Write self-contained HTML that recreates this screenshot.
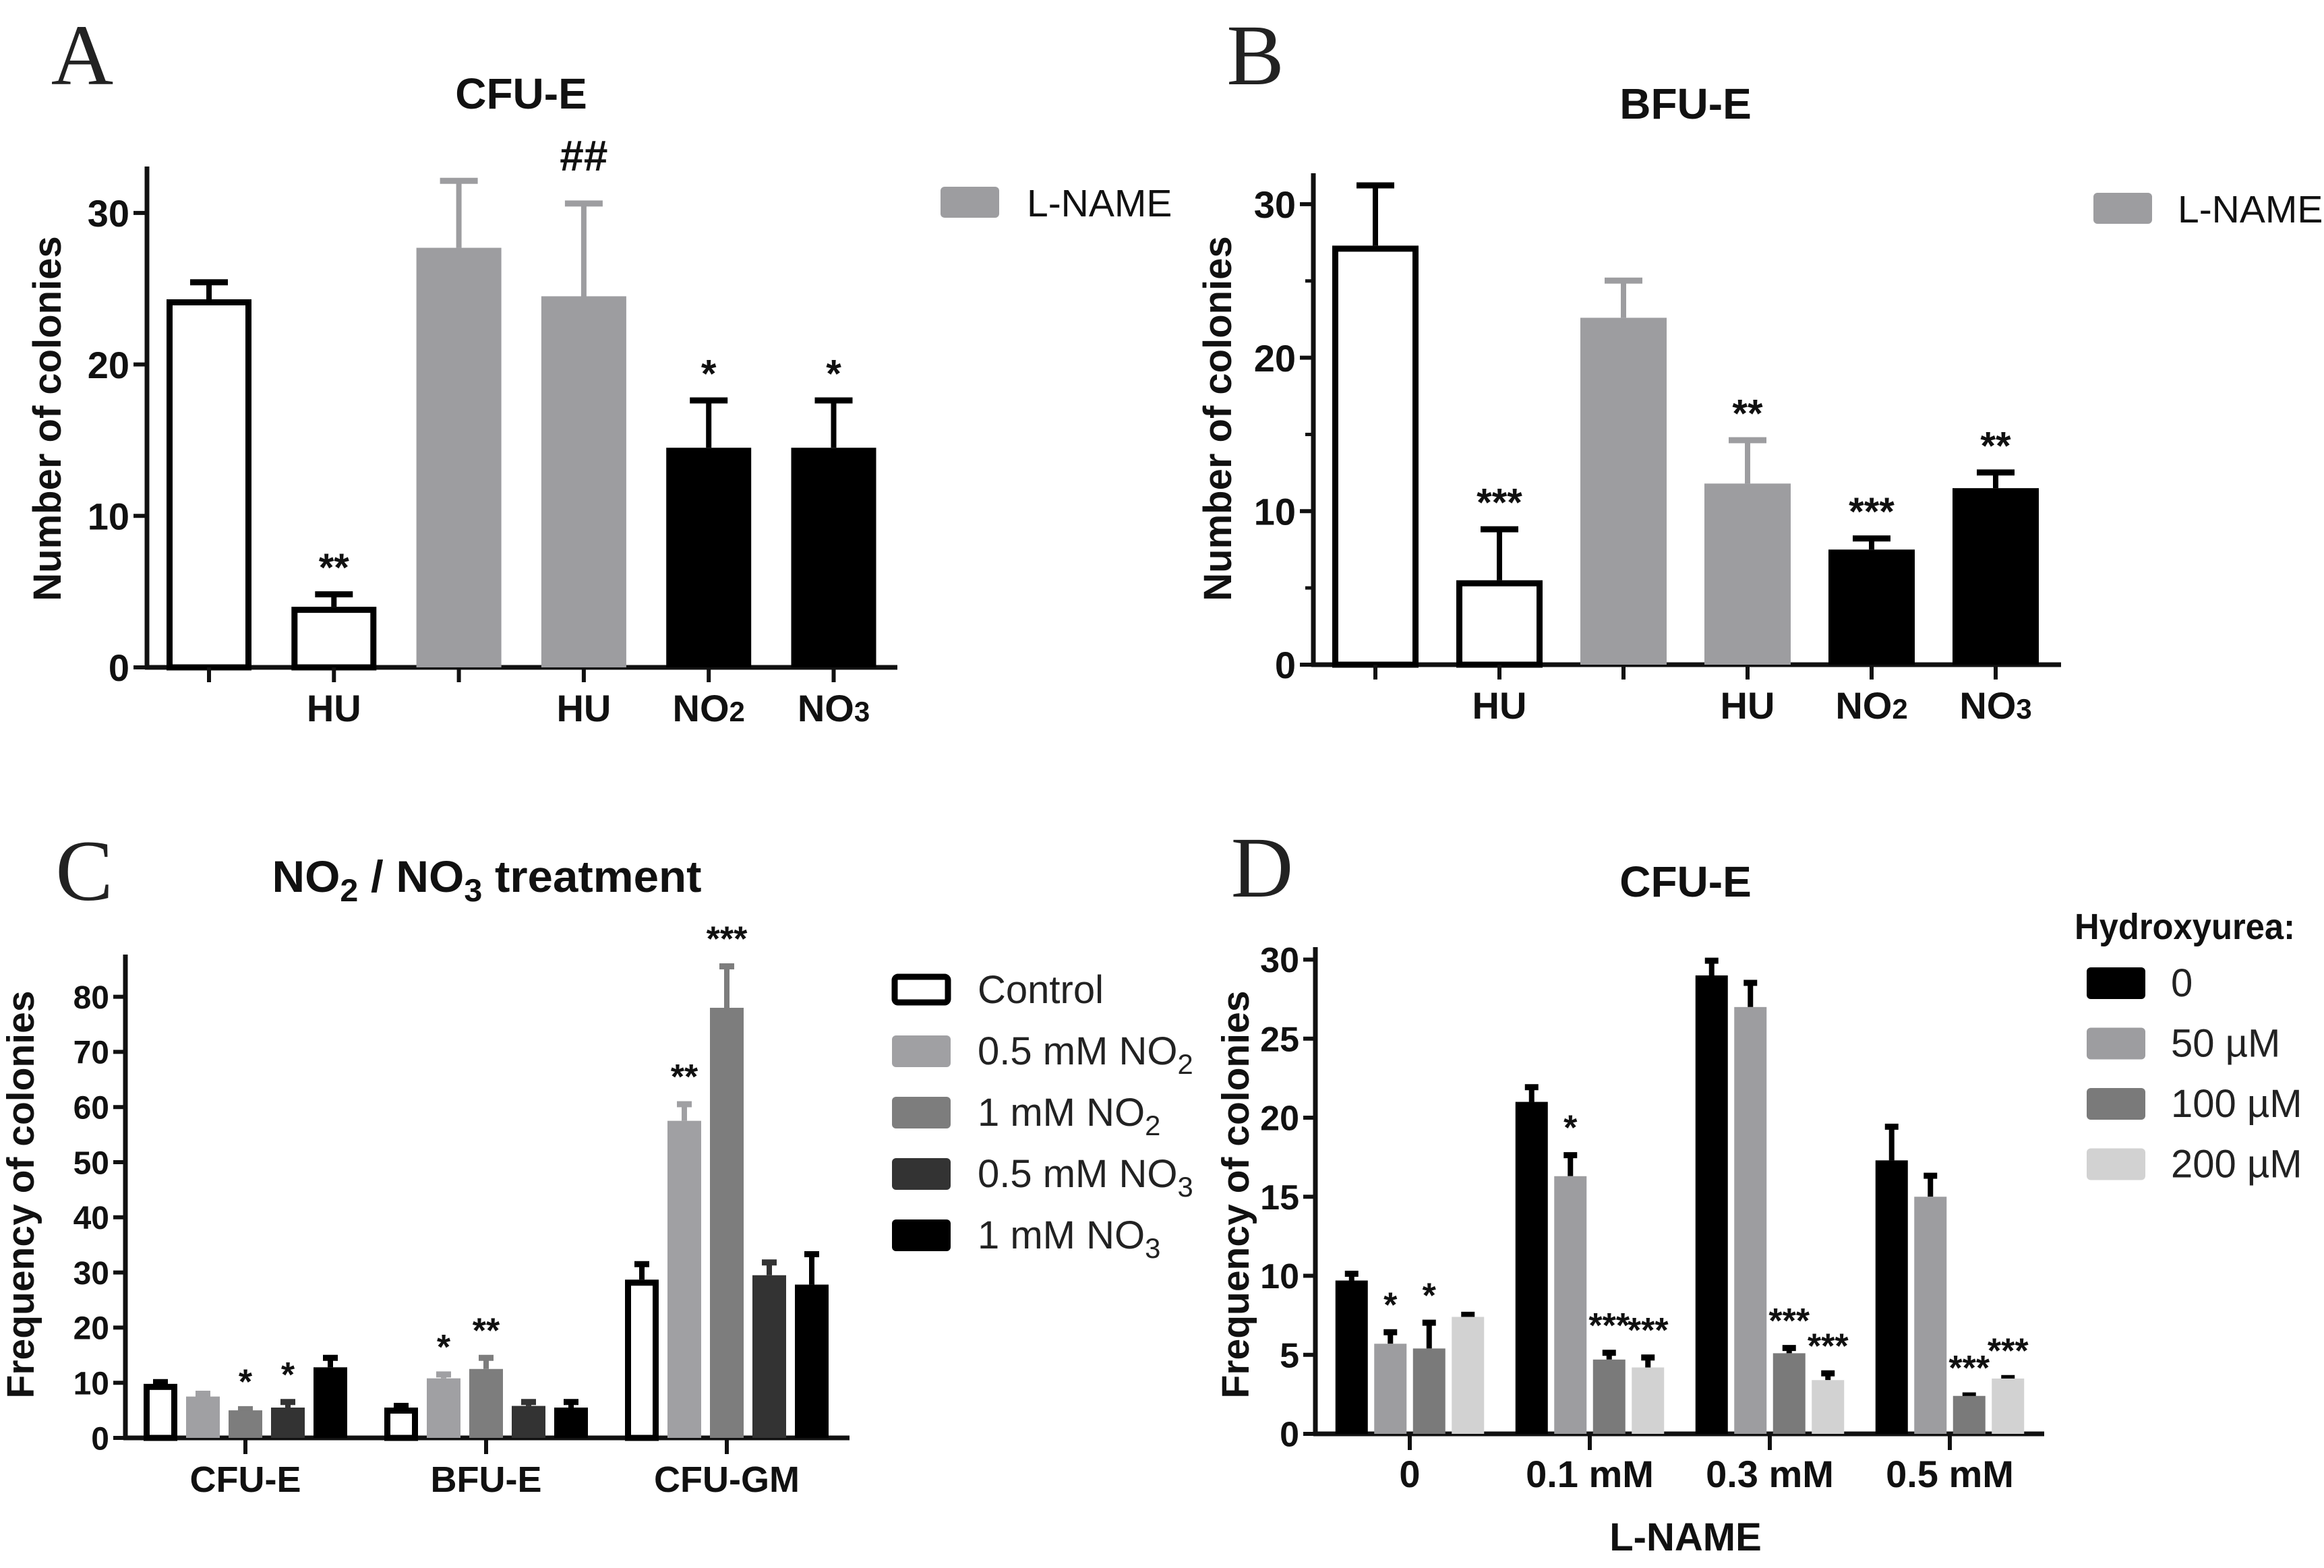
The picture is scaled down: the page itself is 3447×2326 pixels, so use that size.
<!DOCTYPE html>
<html><head><meta charset="utf-8"><style>
html,body{margin:0;padding:0;background:#fff}
svg{display:block}
text{font-family:"Liberation Sans",Arial,sans-serif}
</style></head><body>
<svg id="fig" xmlns="http://www.w3.org/2000/svg" width="3447" height="2326" viewBox="0 0 3447 2326">
<rect x="0" y="0" width="3447" height="2326" fill="#fff"/>
</svg>
<script>
// ---- Panel A data (CFU-E) ----
const aLabels = ["", "HU", "", "HU", "NO2", "NO3"];
const aValues = [24.3, 4.0, 27.7, 24.5, 14.5, 14.5];
const aErrors = [1.3, 1.0, 4.6, 6.3, 3.3, 3.3];
const aMarks = ["", "**", "", "##", "*", "*"];
const aTicks = [0, 10, 20, 30];
// ---- Panel B data (BFU-E) ----
const bLabels = ["", "HU", "", "HU", "NO2", "NO3"];
const bValues = [27.3, 5.5, 22.6, 11.8, 7.5, 11.5];
const bErrors = [4.1, 3.5, 2.6, 3.0, 0.9, 1.2];
const bMarks = ["", "***", "", "**", "***", "**"];
const bTicks = [0, 10, 20, 30];
const bMinorTicks = [5, 15, 25];
// ---- Panel C data ----
const cGroups = ["CFU-E", "BFU-E", "CFU-GM"];
const cSeries = ["Control", "0.5 mM NO2", "1 mM NO2", "0.5 mM NO3", "1 mM NO3"];
const cValues = [[9.8, 7.5, 5.0, 5.5, 12.8], [5.5, 10.8, 12.5, 5.8, 5.5], [28.7, 57.5, 78.0, 29.5, 27.8]];
const cErrors = [[0.8, 1.0, 0.7, 1.5, 2.2], [0.8, 1.2, 2.5, 1.2, 1.5], [3.3, 3.5, 8.0, 2.8, 6.0]];
const cMarks = [["", "", "*", "*", ""], ["", "*", "**", "", ""], ["", "**", "***", "", ""]];
const cTicks = [0, 10, 20, 30, 40, 50, 60, 70, 80];
// ---- Panel D data ----
const dGroups = ["0", "0.1 mM", "0.3 mM", "0.5 mM"];
const dSeries = ["0", "50 µM", "100 µM", "200 µM"];
const dValues = [[9.7, 5.7, 5.4, 7.4], [21.0, 16.3, 4.7, 4.2], [29.0, 27.0, 5.1, 3.4], [17.3, 15.0, 2.4, 3.5]];
const dErrors = [[0.6, 0.9, 1.8, 0.3], [1.1, 1.5, 0.6, 0.8], [1.1, 1.7, 0.5, 0.6], [2.3, 1.5, 0.2, 0.2]];
const dMarks = [["", "*", "*", ""], ["", "*", "***", "***"], ["", "", "***", "***"], ["", "", "***", "***"]];
const dTicks = [0, 5, 10, 15, 20, 25, 30];

const NS = "http://www.w3.org/2000/svg";
const svg = document.getElementById("fig");
function mk(tag, attrs, name, parent) {
  const el = document.createElementNS(NS, tag);
  for (const k in attrs) el.setAttribute(k, attrs[k]);
  
  
  (parent || svg).appendChild(el);
  return el;
}
function txt(str, x, y, size, name, o) {
  o = o || {};
  const el = mk("text", {x: x, y: y, "font-size": size, "font-weight": o.w || "normal",
    "text-anchor": o.a || "middle", fill: o.fill || "#111"}, name);
  if (o.fam) el.setAttribute("style", "font-family:" + o.fam);
  if (o.rot) el.setAttribute("transform", "rotate(-90 " + x + " " + y + ")");
  if (o.len) { el.setAttribute("textLength", o.len); el.setAttribute("lengthAdjust", "spacingAndGlyphs"); }
  if (o.sub && /NO[23]/.test(str)) {
    const re = /NO([23])/g;
    let last = 0, m, shifted = 0;
    while ((m = re.exec(str)) !== null) {
      const pre = document.createElementNS(NS, "tspan");
      pre.setAttribute("dy", -shifted);
      pre.textContent = str.slice(last, m.index + 2);
      el.appendChild(pre);
      const ts = document.createElementNS(NS, "tspan");
      ts.setAttribute("font-size", size * o.sub);
      ts.setAttribute("dy", o.subDy || 0);
      ts.textContent = m[1];
      el.appendChild(ts);
      shifted = o.subDy || 0;
      last = m.index + 3;
    }
    if (last < str.length) {
      const t2 = document.createElementNS(NS, "tspan");
      t2.setAttribute("dy", -shifted);
      t2.textContent = str.slice(last);
      el.appendChild(t2);
    }
  } else el.textContent = str;
  return el;
}
function line(x1, y1, x2, y2, w, c, name) {
  return mk("line", {x1: x1, y1: y1, x2: x2, y2: y2, stroke: c, "stroke-width": w}, name);
}
function axes(ax, y0, yTop, xEnd, yScale, ticks, minor, fontSize, tickLen) {
  line(ax, yTop, ax, y0 + 3, 7, "#111", "y-axis-line");
  line(ax - 3, y0, xEnd, y0, 7, "#111", "x-axis-line");
  ticks.forEach(function (t) {
    const y = yScale(t);
    line(ax - tickLen, y, ax, y, 6, "#111", "y-tick");
    txt(String(t), ax - tickLen - 6, y + fontSize * 0.36, fontSize, "y-tick-label", {w: "bold", a: "end"});
  });
  (minor || []).forEach(function (t) {
    line(ax - tickLen * 0.6, yScale(t), ax, yScale(t), 5, "#111", "y-minor-tick");
  });
}
function bar(cx, w, v, e, yScale, fill, stroke, errColor, capW, name) {
  const y0 = yScale(0), yt = yScale(v), ye = yScale(v + e);
  line(cx, yt, cx, ye, 8, errColor, name + "-error-line");
  line(cx - capW / 2, ye + 4, cx + capW / 2, ye + 4, 9, errColor, name + "-error-cap");
  if (stroke) {
    mk("rect", {x: cx - w / 2 + 4.5, y: yt + 4.5, width: w - 9, height: y0 - yt - 4.5, fill: fill, stroke: stroke, "stroke-width": 9}, name);
  } else {
    mk("rect", {x: cx - w / 2, y: yt, width: w, height: y0 - yt, fill: fill}, name);
  }
  return ye;
}
function mark(str, cx, ye, size, name) {
  if (!str) return;
  const isHash = str.indexOf("#") >= 0;
  const by = isHash ? ye - 45 : ye - 48 + size * 0.56;
  txt(str, cx, by, isHash ? 64 : size, name, {w: "bold"});
}
const SERIF = "'Liberation Serif',serif";

// ===== Panel A =====
(function () {
  const y0 = 990, per = 22.47;
  const yS = function (v) { return y0 - v * per; };
  const xS = function (i) { return 310 + i * 185.3; };
  const fills = ["#fff", "#fff", "#9d9da0", "#9d9da0", "#000", "#000"];
  const errs = ["#000", "#000", "#9d9da0", "#9d9da0", "#000", "#000"];
  txt("A", 122, 125, 128, "panel-label-a", {fam: SERIF, fill: "#222"});
  txt("CFU-E", 773, 161, 64, "title-a", {w: "bold"});
  txt("Number of colonies", 90, 621, 58, "y-axis-title-a", {w: "bold", rot: true});
  axes(218, y0, 247, 1331, yS, aTicks, null, 56, 20);
  aValues.forEach(function (v, i) {
    const cx = xS(i);
    const ye = bar(cx, 126, v, aErrors[i], yS, fills[i], i < 2 ? "#000" : null, errs[i], 56, "bar-a-" + i);
    line(cx, y0, cx, y0 + 22, 6, "#111", "x-tick");
    if (aLabels[i]) txt(aLabels[i], cx, 1070, 56, "x-label-a", {w: "bold", sub: 0.75});
    mark(aMarks[i], cx, ye, 58, "significance-a");
  });
  mk("rect", {x: 1395, y: 277, width: 87, height: 46, rx: 6, fill: "#9d9da0"}, "legend-swatch-lname-a");
  txt("L-NAME", 1523, 321, 57, "legend-label-lname-a", {a: "start"});
})();

// ===== Panel B =====
(function () {
  const y0 = 986, per = 22.77;
  const yS = function (v) { return y0 - v * per; };
  const xS = function (i) { return 2040 + i * 184; };
  const fills = ["#fff", "#fff", "#9d9da0", "#9d9da0", "#000", "#000"];
  const errs = ["#000", "#000", "#9d9da0", "#9d9da0", "#000", "#000"];
  txt("B", 1862, 125, 128, "panel-label-b", {fam: SERIF, fill: "#222"});
  txt("BFU-E", 2500, 176, 64, "title-b", {w: "bold"});
  txt("Number of colonies", 1826, 621, 58, "y-axis-title-b", {w: "bold", rot: true});
  axes(1948, y0, 257, 3057, yS, bTicks, bMinorTicks, 56, 20);
  bValues.forEach(function (v, i) {
    const cx = xS(i);
    const ye = bar(cx, 128, v, bErrors[i], yS, fills[i], i < 2 ? "#000" : null, errs[i], 56, "bar-b-" + i);
    line(cx, y0, cx, y0 + 22, 6, "#111", "x-tick");
    if (bLabels[i]) txt(bLabels[i], cx, 1066, 56, "x-label-b", {w: "bold", sub: 0.75});
    mark(bMarks[i], cx, ye, 58, "significance-b");
  });
  mk("rect", {x: 3105, y: 286, width: 87, height: 46, rx: 6, fill: "#9d9da0"}, "legend-swatch-lname-b");
  txt("L-NAME", 3230, 330, 57, "legend-label-lname-b", {a: "start"});
})();

// ===== Panel C =====
(function () {
  const y0 = 2133, per = 8.18;
  const yS = function (v) { return y0 - v * per; };
  const gx = function (g) { return 364 + g * 357; };
  const fills = ["#fff", "#a0a0a3", "#7d7d7d", "#333", "#000"];
  const errs = ["#000", "#a0a0a3", "#7d7d7d", "#333", "#000"];
  txt("C", 125, 1335, 128, "panel-label-c", {fam: SERIF, fill: "#222"});
  txt("NO2 / NO3 treatment", 722, 1323, 66, "title-c", {w: "bold", sub: 0.72, subDy: 14, len: 637});
  txt("Frequency of colonies", 50, 1772, 57, "y-axis-title-c", {w: "bold", rot: true});
  axes(186, y0, 1416, 1260, yS, cTicks, null, 48, 18);
  cValues.forEach(function (vals, g) {
    line(gx(g), y0, gx(g), y0 + 24, 6, "#111", "x-tick");
    txt(cGroups[g], gx(g), 2213, 54, "x-label-c", {w: "bold"});
    vals.forEach(function (v, k) {
      const cx = gx(g) + (k - 2) * 63;
      const ye = bar(cx, 50, v, cErrors[g][k], yS, fills[k], k === 0 ? "#000" : null, errs[k], 22, "bar-c-" + g + "-" + k);
      mark(cMarks[g][k], cx, ye, 52, "significance-c");
    });
  });
  cSeries.forEach(function (s, k) {
    const cy = 1468 + k * 91;
    if (k === 0) mk("rect", {x: 1327, y: cy - 19, width: 79, height: 38, rx: 5, fill: "#fff", stroke: "#000", "stroke-width": 9}, "legend-swatch-c");
    else mk("rect", {x: 1323, y: cy - 23, width: 87, height: 47, rx: 6, fill: fills[k]}, "legend-swatch-c");
    txt(s, 1450, cy + 20, 58, "legend-label-c", {a: "start", sub: 0.72, subDy: 14, fill: "#222"});
  });
})();

// ===== Panel D =====
(function () {
  const y0 = 2127, per = 23.45;
  const yS = function (v) { return y0 - v * per; };
  const gx = function (g) { return 2091 + g * 267; };
  const fills = ["#000", "#9d9da0", "#7a7a7a", "#d2d2d2"];
  txt("D", 1872, 1330, 128, "panel-label-d", {fam: SERIF, fill: "#222"});
  txt("CFU-E", 2500, 1330, 64, "title-d", {w: "bold"});
  txt("Frequency of colonies", 1852, 1772, 57, "y-axis-title-d", {w: "bold", rot: true});
  axes(1951, y0, 1405, 3032, yS, dTicks, null, 52, 18);
  dValues.forEach(function (vals, g) {
    line(gx(g), y0, gx(g), y0 + 24, 6, "#111", "x-tick");
    txt(dGroups[g], gx(g), 2206, 56, "x-label-d", {w: "bold"});
    vals.forEach(function (v, k) {
      const cx = gx(g) + (k - 1.5) * 57.5;
      const ye = bar(cx, 48, v, dErrors[g][k], yS, fills[k], null, "#000", 20, "bar-d-" + g + "-" + k);
      mark(dMarks[g][k], cx, ye, 52, "significance-d");
    });
  });
  txt("L-NAME", 2500, 2300, 58, "x-axis-title-d", {w: "bold"});
  txt("Hydroxyurea:", 3077, 1393, 54, "legend-title-d", {w: "bold", a: "start", len: 327});
  dSeries.forEach(function (s, k) {
    const cy = 1458 + k * 89.5;
    mk("rect", {x: 3095, y: cy - 23, width: 87, height: 47, rx: 6, fill: fills[k]}, "legend-swatch-d");
    txt(s, 3220, cy + 20, 58, "legend-label-d", {a: "start", fill: "#222"});
  });
})();
</script>
</body></html>
